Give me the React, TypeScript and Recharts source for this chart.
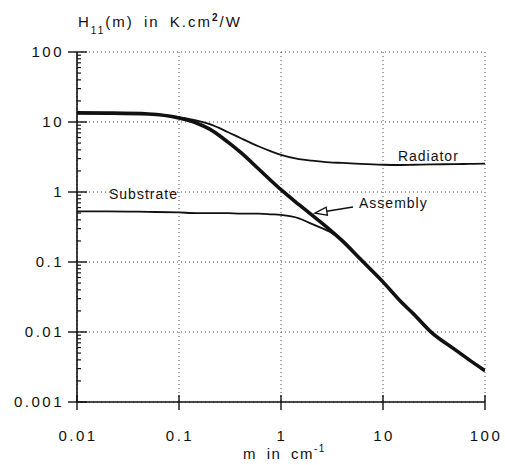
import { LineChart, Line, XAxis, YAxis, CartesianGrid, ReferenceDot, ReferenceLine } from "recharts";

// spatial frequency m (cm^-1)
const mValues = [0.01, 0.02, 0.05, 0.1, 0.15, 0.2, 0.3, 0.4, 0.6, 0.8, 1, 1.5, 2, 3, 4, 6, 10, 15, 20, 30, 50, 70, 100];

// H11(m) in K.cm2/W
const radiator = [13.3, 13.3, 13.0, 11.7, 10.5, 9.3, 7.2, 5.9, 4.5, 3.8, 3.4, 2.95, 2.8, 2.65, 2.6, 2.52, 2.45, 2.43, 2.45, 2.48, 2.5, 2.52, 2.55];
const substrate = [0.53, 0.53, 0.52, 0.51, 0.5, 0.5, 0.5, 0.49, 0.49, 0.48, 0.47, 0.42, 0.35, 0.27, 0.2, 0.108, 0.051, 0.027, 0.018, 0.0097, 0.0057, 0.004, 0.0028];
const assembly = [13.5, 13.4, 13.0, 11.4, 9.6, 7.9, 5.2, 3.7, 2.15, 1.45, 1.08, 0.66, 0.47, 0.29, 0.2, 0.11, 0.052, 0.027, 0.018, 0.0098, 0.0057, 0.004, 0.0028];

const xTicks = [0.01, 0.1, 1, 10, 100];
const xTickLabels = ["0.01", "0.1", "1", "10", "100"];
const yTicks = [0.001, 0.01, 0.1, 1, 10, 100];
const yTickLabels = ["0.001", "0.01", "0.1", "1", "10", "100"];
const yAllTicks = yTicks.slice(0, -1).flatMap((d) => [1, 2, 3, 4, 5, 6, 7, 8, 9].map((k) => d * k)).concat([100]);

const data = mValues.map((m, i) => ({
  m,
  radiator: radiator[i],
  substrate: substrate[i],
  assembly: assembly[i],
}));

const INK = "#111";
const FONT = "'Liberation Sans', Arial, Helvetica, sans-serif";

const majorIndex = (list: number[], v: number) =>
  list.findIndex((t) => Math.abs(Math.log10(v / t)) < 1e-6);

const LeftTick = (props: any) => {
  const { x, y, payload } = props;
  const i = majorIndex(yTicks, payload.value);
  if (i < 0) return <line x1={x} x2={x + 4} y1={y} y2={y} stroke={INK} strokeWidth={1.2} />;
  return (
    <g>
      <line x1={x - 9} x2={x + 10} y1={y} y2={y} stroke={INK} strokeWidth={1.4} />
      <text x={x - 13} y={y} dy={5} textAnchor="end" fontFamily={FONT} fontSize={15} letterSpacing={2.5} fill={INK}>
        {yTickLabels[i]}
      </text>
    </g>
  );
};

const RightTick = (props: any) => {
  const { x, y, payload } = props;
  const i = majorIndex(yTicks, payload.value);
  if (i < 0) return <line x1={x - 5} x2={x} y1={y} y2={y} stroke={INK} strokeWidth={1.2} />;
  return <line x1={x - 8} x2={x + 10} y1={y} y2={y} stroke={INK} strokeWidth={1.4} />;
};

const BottomTick = (props: any) => {
  const { x, y, payload } = props;
  const i = majorIndex(xTicks, payload.value);
  return (
    <g>
      <line x1={x} x2={x} y1={y - 7} y2={y + 8} stroke={INK} strokeWidth={1.4} />
      <text x={x + 1} y={y + 39} textAnchor="middle" fontFamily={FONT} fontSize={15} letterSpacing={2.5} fill={INK}>
        {xTickLabels[i]}
      </text>
    </g>
  );
};

const TopTick = (props: any) => {
  const { x, y } = props;
  return <line x1={x} x2={x} y1={y - 9} y2={y + 10} stroke={INK} strokeWidth={1.4} />;
};

const annotation = (text: string) => (p: any) => {
  const vb = p.viewBox || p;
  return (
    <text x={vb.x} y={vb.y} fontFamily={FONT} fontSize={14} letterSpacing={1} fill={INK}>
      {text}
    </text>
  );
};

const Arrow = (p: any) => {
  const { x1, y1, x2, y2 } = p;
  const dx = x2 - x1;
  const dy = y2 - y1;
  const len = Math.sqrt(dx * dx + dy * dy) || 1;
  const ux = dx / len;
  const uy = dy / len;
  const head = 12;
  const bx = x2 - ux * head;
  const by = y2 - uy * head;
  const pts = `${x2},${y2} ${bx - uy * 4},${by + ux * 4} ${bx + uy * 4},${by - ux * 4}`;
  return (
    <g>
      <line x1={x1} y1={y1} x2={bx} y2={by} stroke={INK} strokeWidth={1.6} />
      <polygon points={pts} fill="#fff" stroke={INK} strokeWidth={1.3} />
    </g>
  );
};

const axisLine = { stroke: INK, strokeWidth: 1.6 };

export default function App() {
  return (
    <div style={{ position: "absolute", left: 0, top: 0, width: 505, height: 465, background: "#fff" }}>
      <LineChart width={505} height={465} data={data} margin={{ top: 52, right: 20, bottom: 23, left: 17 }}>
        <CartesianGrid
          stroke="#444"
          strokeDasharray="1 3"
          horizontalValues={yTicks}
          verticalValues={xTicks}
        />
        <XAxis
          dataKey="m"
          type="number"
          scale="log"
          domain={[0.01, 100]}
          allowDataOverflow
          ticks={xTicks}
          interval={0}
          tickSize={0}
          tickMargin={0}
          tickLine={false}
          tick={BottomTick}
          height={40}
          axisLine={axisLine}
        />
        <XAxis
          xAxisId="top"
          orientation="top"
          dataKey="m"
          type="number"
          scale="log"
          domain={[0.01, 100]}
          allowDataOverflow
          ticks={xTicks}
          interval={0}
          tickSize={0}
          tickMargin={0}
          tickLine={false}
          tick={TopTick}
          height={0}
          axisLine={axisLine}
        />
        <YAxis
          type="number"
          scale="log"
          domain={[0.001, 100]}
          allowDataOverflow
          ticks={yAllTicks}
          interval={0}
          tickSize={0}
          tickMargin={0}
          tickLine={false}
          tick={LeftTick}
          width={60}
          axisLine={axisLine}
        />
        <YAxis
          yAxisId="right"
          orientation="right"
          type="number"
          scale="log"
          domain={[0.001, 100]}
          allowDataOverflow
          ticks={yAllTicks}
          interval={0}
          tickSize={0}
          tickMargin={0}
          tickLine={false}
          tick={RightTick}
          width={0}
          axisLine={axisLine}
        />
        <Line type="monotone" dataKey="substrate" stroke={INK} strokeWidth={1.8} dot={false} isAnimationActive={false} />
        <Line type="monotone" dataKey="radiator" stroke={INK} strokeWidth={1.8} dot={false} isAnimationActive={false} />
        <Line type="monotone" dataKey="assembly" stroke={INK} strokeWidth={3.6} dot={false} isAnimationActive={false} />
        <ReferenceDot x={14} y={2.77} r={0} fill="none" stroke="none" label={annotation("Radiator")} />
        <ReferenceDot x={0.0206} y={0.79} r={0} fill="none" stroke="none" label={annotation("Substrate")} />
        <ReferenceDot x={5.82} y={0.59} r={0} fill="none" stroke="none" label={annotation("Assembly")} />
        <ReferenceLine segment={[{ x: 5.08, y: 0.61 }, { x: 2.15, y: 0.5 }]} shape={Arrow} />
        <text x={78} y={27} fontFamily={FONT} fontSize={15} letterSpacing={2} wordSpacing={4} fill={INK}>
          H
          <tspan fontSize={10} dy={7}>11</tspan>
          <tspan dy={-7}>(m) in K.cm</tspan>
          <tspan fontSize={10} fontWeight="bold" dy={-6}>2</tspan>
          <tspan dy={6}>/W</tspan>
        </text>
        <text x={243} y={459} fontFamily={FONT} fontSize={15} letterSpacing={1.5} wordSpacing={4} fill={INK}>
          m in cm
          <tspan fontSize={10} dy={-7}>-1</tspan>
        </text>
      </LineChart>
    </div>
  );
}
